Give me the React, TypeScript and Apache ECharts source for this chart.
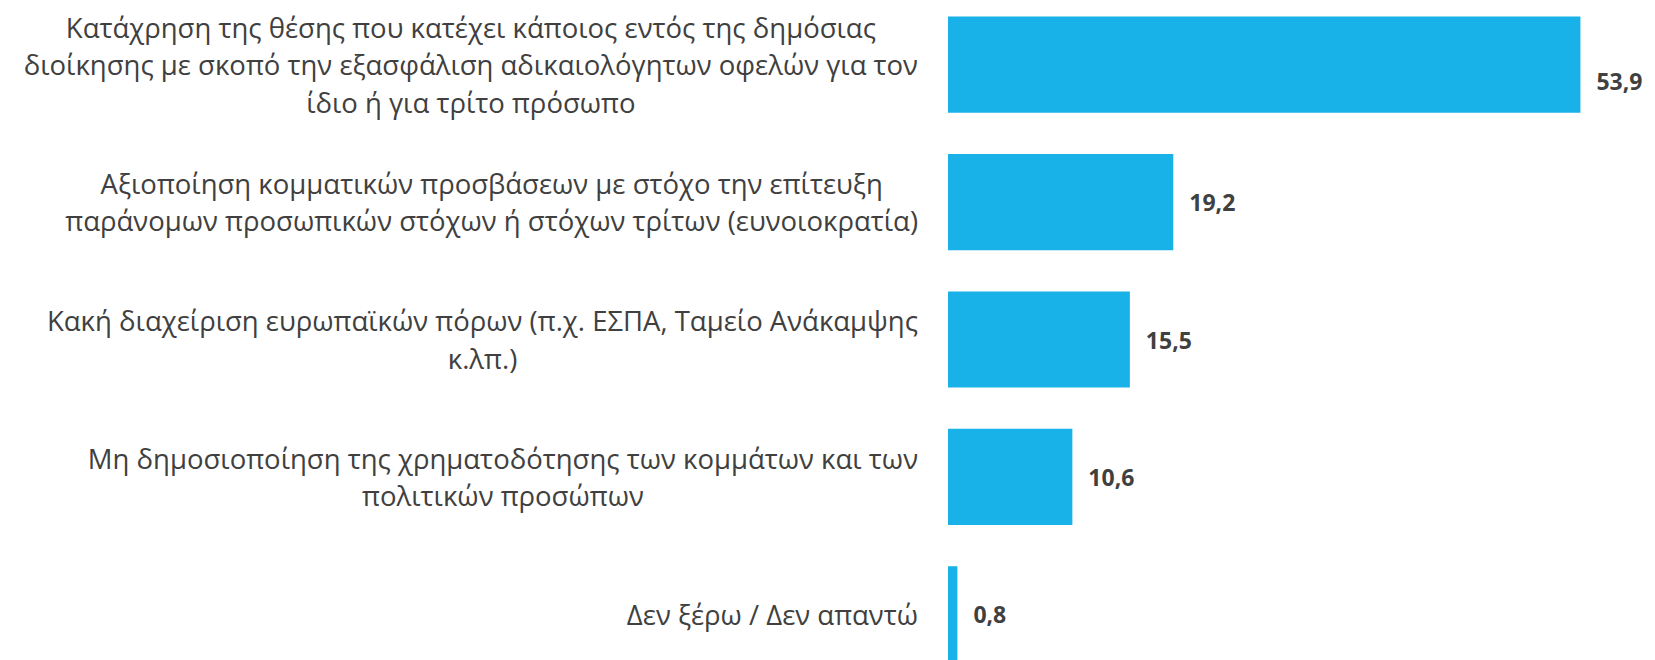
import React, { useEffect, useRef } from "react";
import * as echarts from "echarts";

const categories: string[] = [
  "Κατάχρηση της θέσης που κατέχει κάποιος εντός της δημόσιας\nδιοίκησης με σκοπό την εξασφάλιση αδικαιολόγητων οφελών για τον\nίδιο ή για τρίτο πρόσωπο",
  "Αξιοποίηση κομματικών προσβάσεων με στόχο την επίτευξη\nπαράνομων προσωπικών στόχων ή στόχων τρίτων (ευνοιοκρατία)",
  "Κακή διαχείριση ευρωπαϊκών πόρων (π.χ. ΕΣΠΑ, Ταμείο Ανάκαμψης\nκ.λπ.)",
  "Μη δημοσιοποίηση της χρηματοδότησης των κομμάτων και των\nπολιτικών προσώπων",
  "Δεν ξέρω / Δεν απαντώ",
];

const values: number[] = [53.9, 19.2, 15.5, 10.6, 0.8];

const FONT = "'Open Sans', 'Noto Sans', sans-serif";

export default function App() {
  const ref = useRef<HTMLDivElement>(null);

  useEffect(() => {
    if (!ref.current) return;
    const chart = echarts.init(ref.current, undefined, { renderer: "svg" });
    chart.setOption({
      animation: false,
      backgroundColor: "#ffffff",
      grid: { left: 948, right: 3, top: 0, bottom: 0 },
      xAxis: {
        type: "value",
        min: 0,
        max: 60,
        show: false,
      },
      yAxis: {
        type: "category",
        inverse: true,
        data: categories,
        axisLine: { show: false },
        axisTick: { show: false },
        splitLine: { show: false },
        axisLabel: {
          margin: 30,
          align: "right",
          formatter: (v: string) =>
            v
              .split("\n")
              .map((l) => `{c|${l}}`)
              .join("\n"),
          rich: {
            c: {
              align: "center",
              fontFamily: FONT,
              fontSize: 27.5,
              lineHeight: 37.5,
              color: "#404040",
            },
          },
        },
      },
      series: [
        {
          type: "bar",
          data: values.map((v, i) =>
            i === 0 ? { value: v, label: { offset: [0, 16] } } : v
          ),
          barCategoryGap: "30%",
          itemStyle: { color: "#18b1e8" },
          label: {
            show: true,
            position: "right",
            distance: 16,
            fontFamily: FONT,
            fontWeight: "bold",
            fontSize: 23,
            color: "#404040",
            formatter: (p: any) => String(p.value).replace(".", ","),
          },
        },
      ],
    });
    return () => chart.dispose();
  }, []);

  return (
    <div
      ref={ref}
      style={{ position: "fixed", left: 0, top: -4, width: 1655, height: 687 }}
    />
  );
}
